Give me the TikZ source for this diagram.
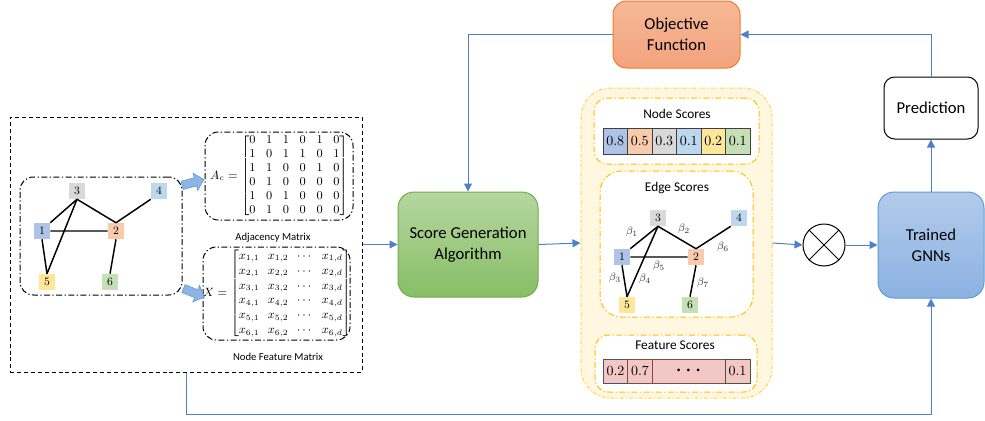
\documentclass[tikz,border=0pt]{standalone}
\usepackage{amsmath}
\usepackage{fontspec}
\newfontfamily\calibri{Carlito}
\usepackage{tikz}
\usetikzlibrary{calc,arrows.meta,shapes.arrows}
\definecolor{flowblue}{HTML}{4F7FD0}
\definecolor{nblue}{HTML}{AFC3E6}
\definecolor{norange}{HTML}{F8CBAD}
\definecolor{ngray}{HTML}{D9D9D9}
\definecolor{nlblue}{HTML}{BDD7EE}
\definecolor{nyellow}{HTML}{FFE699}
\definecolor{ngreen}{HTML}{C5E0B4}
\definecolor{fpink}{HTML}{F4C7C7}
\definecolor{gold}{HTML}{FFC000}
\definecolor{cream}{HTML}{FFF7E0}
\definecolor{arrowfill}{HTML}{8DB4E2}
\definecolor{arrowedge}{HTML}{5B9BD5}
\definecolor{greenedge}{HTML}{70AD47}
\definecolor{greentop}{HTML}{B5D6A0}
\definecolor{greenbot}{HTML}{88BE66}
\definecolor{orangeedge}{HTML}{ED7D31}
\definecolor{orangetop}{HTML}{F5B896}
\definecolor{orangebot}{HTML}{F3A37D}
\definecolor{blueedge}{HTML}{5B9BD5}
\definecolor{bluetop}{HTML}{B2CBEA}
\definecolor{bluebot}{HTML}{8CB2E1}
\definecolor{slate}{HTML}{44546A}
\definecolor{brownish}{HTML}{78503C}
\definecolor{olive}{HTML}{465A32}

\begin{document}
\begin{tikzpicture}[x=0.75pt,y=-0.75pt]
\tikzstyle{flow}=[flowblue,line width=0.75pt,-{Triangle[length=6pt,width=6pt]}]

\tikzstyle{dashdot}=[draw,line width=0.75pt,dash pattern=on 4.5pt off 1.8pt on 1pt off 1.8pt,rounded corners=10pt]

\tikzstyle{block}=[draw,line width=0.75pt,rounded corners=12pt,align=center,font=\calibri\fontsize{12.5}{15.5}\selectfont]

\tikzstyle{gnode}=[minimum width=12pt,minimum height=12pt,inner sep=0pt,font=\fontsize{8.5}{8.5}\selectfont]

\tikzstyle{cell}=[draw=black!75,line width=0.6pt,minimum width=18.4pt,minimum height=19.5pt,inner sep=0pt,font=\fontsize{10.5}{10.5}\selectfont]

\tikzstyle{fcell}=[cell,fill=fpink,minimum height=18pt,minimum width=18.75pt]

\tikzstyle{bluearrow}=[single arrow,fill=arrowfill,draw=arrowedge,line width=0.4pt,minimum height=17pt,single arrow head extend=3.5pt,inner sep=3pt]

\tikzstyle{label}=[font=\calibri\fontsize{8}{8}\selectfont]

\tikzstyle{title}=[font=\calibri\fontsize{10}{10}\selectfont]

\useasboundingbox (0,0) rectangle (985,421);

\node (inputbox) [draw,line width=0.75pt,dash pattern=on 3pt off 2.2pt,minimum width=264pt,minimum height=191.25pt] at (186,244.5) {};
\node (graphbox) [dashdot,minimum width=121.5pt,minimum height=88.5pt] at (101,236) {};
\node (adjbox) [dashdot,minimum width=111pt,minimum height=66pt] at (279,176) {};
\node (featbox) [dashdot,minimum width=110.25pt,minimum height=69.75pt] at (276.5,293.5) {};

\foreach \n/\x/\y/\c in {1/42/231/nblue,2/116/231/norange,3/77/191/ngray,4/159/191/nlblue,5/47/282/nyellow,6/110/282/ngreen}
  \node (g\n) [gnode,fill=\c] at (\x,\y) {\n};
\draw [line width=1.1pt] (g3.south) -- (g1.north east) (g3.south) -- (g2.north) (g3.south) -- (g5.north)
  (g4.south west) -- (g2.north) (g1.east) -- (g2.west) (g1.south) -- (g5.north) (g2.south) -- (g6.north);

\node (arrowup) [bluearrow,rotate=15] at (191,183) {};
\node (arrowdown) [bluearrow,rotate=-22] at (192,292) {};

\node (adjmat) at (279,176) {\fontsize{9}{10.5}\selectfont\setlength\arraycolsep{4pt}$A_c=\begin{bmatrix}0&1&1&0&1&0\\1&0&1&1&0&1\\1&1&0&0&1&0\\0&1&0&0&0&0\\1&0&1&0&0&0\\0&1&0&0&0&0\end{bmatrix}$};
\node (featmat) at (277,293.5) {\fontsize{9}{11.2}\selectfont\setlength\arraycolsep{3.2pt}$X=\begin{bmatrix}x_{1,1}&x_{1,2}&\cdots&x_{1,d}\\x_{2,1}&x_{2,2}&\cdots&x_{2,d}\\x_{3,1}&x_{3,2}&\cdots&x_{3,d}\\x_{4,1}&x_{4,2}&\cdots&x_{4,d}\\x_{5,1}&x_{5,2}&\cdots&x_{5,d}\\x_{6,1}&x_{6,2}&\cdots&x_{6,d}\end{bmatrix}$};
\node (adjlabel) [label] at (273,238) {Adjacency Matrix};
\node (featlabel) [label] at (278,357) {Node Feature Matrix};

\node (scoregen) [block,draw=greenedge,top color=greentop,bottom color=greenbot,minimum width=105pt,minimum height=78.75pt] at (468,244.5) {Score Generation\\Algorithm};
\node (objective) [block,draw=orangeedge,top color=orangetop,bottom color=orangebot,minimum width=95.25pt,minimum height=50.25pt,rounded corners=10pt] at (676.5,34.5) {Objective\\Function};
\node (prediction) [block,fill=white,minimum width=70.5pt,minimum height=46.5pt,rounded corners=8pt] at (931,108) {Prediction};
\node (gnn) [block,draw=blueedge,top color=bluetop,bottom color=bluebot,minimum width=79.5pt,minimum height=79.5pt] at (931,245) {Trained\\GNNs};
\node (mult) [draw,circle,line width=0.75pt,minimum size=31.5pt,inner sep=0pt] at (824,245) {};
\draw [line width=0.75pt] (mult.45) -- (mult.225) (mult.135) -- (mult.315);

\node (scorebox) [draw=gold!70,fill=cream,line width=0.75pt,dash pattern=on 3pt off 1.5pt on 1pt off 1.5pt,rounded corners=22pt,minimum width=143.25pt,minimum height=232.5pt] at (676.5,243) {};
\node (nodebox) [dashdot,draw=gold,fill=white,minimum width=123.75pt,minimum height=49.5pt] at (676.5,131) {};
\node (edgebox) [dashdot,draw=gold,fill=white,minimum width=114.75pt,minimum height=109.5pt,rounded corners=16pt] at (676.5,244) {};
\node (featscorebox) [dashdot,draw=gold,fill=white,minimum width=121.5pt,minimum height=42.75pt] at (676,363.5) {};

\node (nodetitle) [title] at (677,114) {Node Scores};
\node (edgetitle) [title] at (677,188) {Edge Scores};
\node (feattitle) [title] at (675,345) {Feature Scores};

\foreach \v/\c [count=\i] in {0.8/nblue,0.5/norange,0.3/ngray,0.1/nlblue,0.2/nyellow,0.1/ngreen}
  \node (ns\i) [cell,fill=\c] at ({603+24.5*(\i-0.5)},141) {\v};

\foreach \n/\x/\y/\c in {1/622/257/nblue,2/696/257/norange,3/658/218/ngray,4/739/218/nlblue,5/627/305/nyellow,6/690/305/ngreen}
  \node (e\n) [gnode,fill=\c] at (\x,\y) {\n};
\draw [line width=1.1pt] (e3.south) -- (e1.north east) (e3.south) -- (e2.north) (e3.south) -- (e5.north)
  (e4.south west) -- (e2.north) (e1.east) -- (e2.west) (e1.south) -- (e5.north) (e2.south) -- (e6.north);
\foreach \b/\x/\y in {1/632/232,2/684/229,3/615/278,4/645/279,5/659/266,6/723/247,7/703/283}
  \node (beta\b) [font=\fontsize{8.5}{8.5}\selectfont,text=black!80] at (\x,\y) {$\beta_\b$};

\node (fs1) [fcell,draw=slate] at (615.5,371) {0.2};
\node (fs2) [fcell,draw=brownish] at (640,371) {0.7};
\node (fs3) [fcell,draw=brownish,minimum width=54.75pt] at (688.5,371) {\scriptsize\textbullet\,\textbullet\,\textbullet};
\node (fs4) [fcell,draw=olive] at (737.5,371) {0.1};

\coordinate (fb) at (186,414);
\draw [flow] (inputbox.east) -- (scoregen.west);
\draw [flow] (scoregen.east) -- (scorebox.west);
\draw [flow] (scorebox.east) -- (mult.west);
\draw [flow] (mult.east) -- (gnn.west);
\draw [flow] (gnn.north) -- (prediction.south);
\draw [flow] (prediction.north) |- (objective.east);
\draw [flow] (objective.west) -| (scoregen.north);
\draw [flow] (inputbox.south -| fb) -- (fb) -| (gnn.south);

\end{tikzpicture}
\end{document}
